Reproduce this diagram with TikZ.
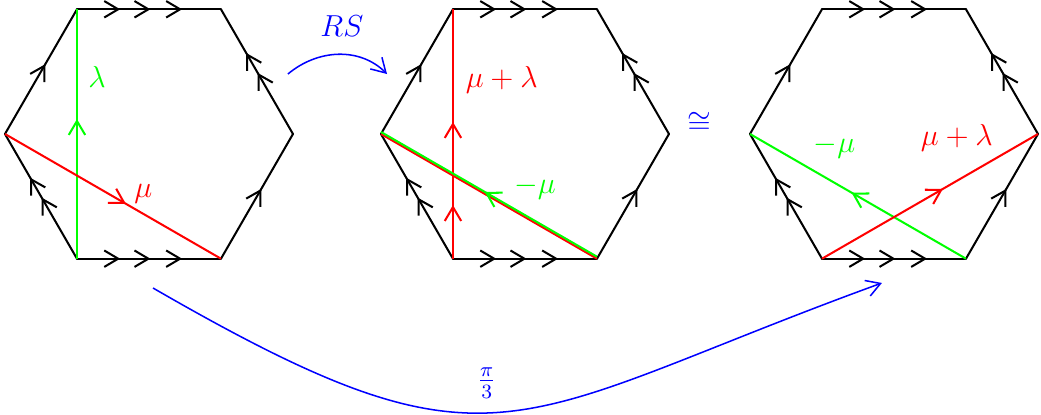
\documentclass[tikz,border=0pt]{standalone}
\usetikzlibrary{arrows.meta,decorations.markings,calc}

\begin{document}
\begin{tikzpicture}[
    >={Straight Barb[length=5.5pt,width=6.5pt]},
    hexedge/.style={thick, black, line cap=round},
    cycle/.style={thick},
    lab/.style={font=\large, inner sep=1pt},
    onearrow/.style={postaction={decorate}, decoration={markings, mark=at position 0.56 with {\arrow{>}}}},
    twoarrows/.style={postaction={decorate}, decoration={markings, mark=at position 0.49 with {\arrow{>}}, mark=at position 0.65 with {\arrow{>}}}},
    threearrows/.style={postaction={decorate}, decoration={markings, mark=at position 0.3 with {\arrow{>}}, mark=at position 0.51 with {\arrow{>}}, mark=at position 0.73 with {\arrow{>}}}},
    tipat/.style={postaction={decorate}, decoration={markings, mark=at position #1 with {\arrow{>}}}},
    map/.style={blue, semithick, ->}
  ]
    \useasboundingbox (-2.069,-3.889) rectangle (12.389,1.861);

    % the three hexagons
    \foreach \h/\cx in {A/0, B/5.222, C/10.347}{
      \coordinate (\h-R)  at ({\cx+2},0);
      \coordinate (\h-TR) at ({\cx+1},1.732);
      \coordinate (\h-TL) at ({\cx-1},1.732);
      \coordinate (\h-L)  at ({\cx-2},0);
      \coordinate (\h-BL) at ({\cx-1},-1.732);
      \coordinate (\h-BR) at ({\cx+1},-1.732);
      \draw[hexedge, threearrows] (\h-TL) -- (\h-TR);
      \draw[hexedge, threearrows] (\h-BL) -- (\h-BR);
      \draw[hexedge, onearrow] (\h-L) -- (\h-TL);
      \draw[hexedge, twoarrows] (\h-BL) -- (\h-L);
      \draw[hexedge, twoarrows] (\h-R) -- (\h-TR);
      \draw[hexedge, onearrow] (\h-BR) -- (\h-R);
    }

    % first hexagon
    \draw[cycle, green, tipat=0.56] (A-BL) -- (A-TL);
    \draw[cycle, red, tipat=0.56] (A-L) -- (A-BR);
    \node[lab, green] (lamA) at (-0.72,0.79) {$\lambda$};
    \node[lab, red] (muA) at (-0.08,-0.83) {$\mu$};

    % second hexagon
    \draw[cycle, red] (B-L) -- (B-BR);
    \draw[cycle, red, postaction={decorate}, decoration={markings, mark=at position 0.215 with {\arrow{>}}, mark=at position 0.548 with {\arrow{>}}}] (B-BL) -- (B-TL);
    \draw[cycle, green, tipat=0.52, transform canvas={yshift=0.8pt}] (B-BR) -- (B-L);
    \node[lab, red] (mlB) at (4.90,0.75) {$\mu+\lambda$};
    \node[lab, green] (muB) at (5.36,-0.74) {$-\mu$};

    % third hexagon
    \draw[cycle, green, tipat=0.53] (C-BR) -- (C-L);
    \draw[cycle, red, tipat=0.56] (C-BL) -- (C-R);
    \node[lab, green] (muC) at (9.52,-0.18) {$-\mu$};
    \node[lab, red] (mlC) at (11.22,-0.06) {$\mu+\lambda$};

    % maps
    \coordinate (rsS) at (1.93,0.833);
    \coordinate (rsE) at (3.306,0.833);
    \draw[map] (rsS) to[out=40, in=135] (rsE);
    \node[lab, blue] (rs) at (2.68,1.5) {$RS$};
    \node[lab, blue] (iso) at (7.64,0.15) {$\cong$};
    \coordinate (rotS) at (0.056,-2.139);
    \coordinate (rotE) at (10.18,-2.069);
    \draw[map] (rotS) to[out=-30, in=200, looseness=1.4] (rotE);
    \node[lab, blue] (rot) at (4.69,-3.46) {$\frac{\pi}{3}$};
\end{tikzpicture}
\end{document}
